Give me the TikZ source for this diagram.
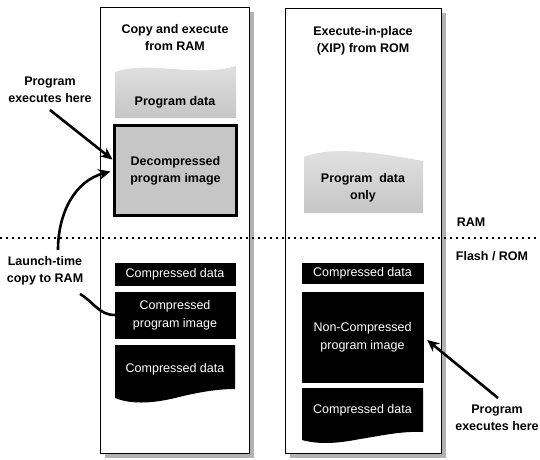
\documentclass[tikz,border=0pt]{standalone}
\usepackage{fontspec}
\setmainfont{Liberation Sans}
\usetikzlibrary{arrows.meta,calc}
\begin{document}
\begin{tikzpicture}[x=1pt,y=-1pt,
  lbl/.style={font=\bfseries\fontsize{12.5}{17}\selectfont, align=center, inner sep=0pt},
  wtxt/.style={text=white, font=\fontsize{12.5}{18}\selectfont, align=center, inner sep=0pt},
  blk/.style={fill=black, draw=black},
  colbox/.style={draw=black, fill=white, line width=0.8pt, inner sep=0pt, anchor=north west},
  shadow/.style={fill=gray!60},
  pdata/.style={top color=gray!22, bottom color=gray!45},
  arr/.style={line width=2.6pt, -{Stealth[length=12pt,width=11pt]}},
  conn/.style={line width=2.6pt},
  sep/.style={line width=2pt, dash pattern=on 2pt off 4pt},
]
\useasboundingbox (0,0) rectangle (540,459);

% ---------- columns ----------
\fill[shadow] (105,12) rectangle (254,458);
\node[colbox, minimum width=149pt, minimum height=446pt] (colA) at (100,7) {};
\fill[shadow] (290,13) rectangle (446,458);
\node[colbox, minimum width=156pt, minimum height=445pt] (colB) at (285,8) {};

% ---------- titles ----------
\node[lbl] (tA) at (175,38) {Copy and execute\\from RAM};
\node[lbl] (tB) at (363,41) {Execute-in-place\\(XIP) from ROM};

% ---------- left column, RAM part ----------
\path[pdata] (115,118) -- (115,72) .. controls (150,60) and (195,78) .. (236,66) -- (236,118) -- cycle;
\node[lbl] (pdA) at (175,102) {Program data};
\node[draw=black, line width=2.2pt, fill=gray!45, minimum width=122pt, minimum height=90pt, lbl]
  (decomp) at (175.5,170.5) {Decompressed\\program image};

% ---------- right column, RAM part ----------
\path[pdata] (304,213) -- (304,157) .. controls (330,146) and (375,152) .. (423,161) -- (423,213) -- cycle;
\node[lbl] (pdB) at (363,188) {Program\ \ data\\only};

% ---------- separator ----------
\coordinate (sepL) at (0,238);
\coordinate (sepR) at (540,238);
\draw[sep] (sepL) -- (sepR);
\node[lbl] (ram) at (471,222) {RAM};
\node[lbl] (flash) at (492,256) {Flash / ROM};

% ---------- left column, Flash part ----------
\node[blk, minimum width=120pt, minimum height=22pt, wtxt] (cdA1) at (175,274) {Compressed data};
\node[blk, minimum width=120pt, minimum height=46pt, wtxt] (cpi) at (175,315) {Compressed\\program image};
\fill[black] (115,345) -- (235,345) -- (235,389) .. controls (215,389) and (195,393) .. (175,398)
   .. controls (150,404) and (130,404) .. (115,398) -- cycle;
\node[wtxt] (cdA2) at (175,369) {Compressed data};

% ---------- right column, Flash part ----------
\node[blk, minimum width=121pt, minimum height=20pt, wtxt] (cdB1) at (362.5,273) {Compressed data};
\node[blk, minimum width=121pt, minimum height=90pt, wtxt] (ncpi) at (362.5,337) {Non-Compressed\\program image};
\fill[black] (302,388) -- (423,388) -- (423,432) .. controls (400,431) and (380,436) .. (360,439)
   .. controls (340,443) and (320,445) .. (302,440) -- cycle;
\node[wtxt] (cdB2) at (362.5,410) {Compressed data};

% ---------- side labels ----------
\node[lbl] (peA) at (50,90) {Program\\executes here};
\node[lbl] (lt) at (45,271) {Launch-time\\copy to RAM};
\node[lbl] (peB) at (497,418) {Program\\executes here};

% ---------- arrows ----------
\coordinate (peAs) at (50,110);
\draw[arr] (peAs) -- ($(decomp.west)+(-1,-11)$);
\coordinate (ltUp) at (58,250);
\draw[arr] (ltUp) to[out=90,in=195] ($(decomp.west)+(-3,1)$);
\coordinate (ltDown) at (80,294);
\draw[conn] (ltDown) to[out=-30,in=180] (cpi.west);
\coordinate (peBs) at (498,398);
\draw[arr] (peBs) -- ($(ncpi.east)+(4,3)$);
\end{tikzpicture}
\end{document}
